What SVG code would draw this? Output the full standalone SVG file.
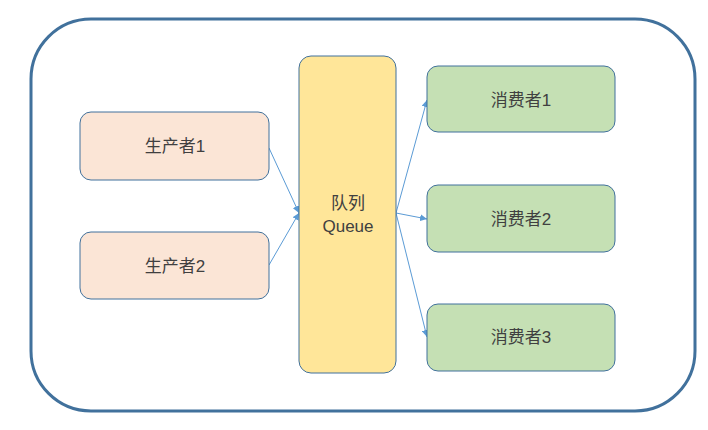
<svg xmlns="http://www.w3.org/2000/svg" width="708" height="430" viewBox="0 0 708 430">
<style>
.box{stroke:#41719C;stroke-width:1}
.t{font-family:"Liberation Sans","Noto Sans CJK SC",sans-serif;font-size:17px;fill:#404040;text-anchor:middle;dominant-baseline:central}
.c{stroke:#5B9BD5;stroke-width:1;fill:none;marker-end:url(#ah)}
</style>
<defs>
<marker id="ah" viewBox="0 0 10 10" refX="10" refY="5" markerWidth="7" markerHeight="7" orient="auto" markerUnits="userSpaceOnUse">
<path d="M0,0 L10,5 L0,10 z" fill="#5B9BD5"/>
</marker>
</defs>
<rect x="31" y="19" width="664" height="392" rx="60" ry="60" fill="#fff" stroke="#41719C" stroke-width="3"/>
<g id="connectors">
<line class="c" x1="269" y1="148" x2="299" y2="213"/>
<line class="c" x1="269" y1="265" x2="299" y2="213"/>
<line class="c" x1="396" y1="213" x2="427" y2="100"/>
<line class="c" x1="396" y1="213" x2="427" y2="219"/>
<line class="c" x1="396" y1="213" x2="427" y2="337"/>
</g>
<g id="producer1"><rect class="box" x="80" y="112" width="189" height="68" rx="11" fill="#FBE5D6"/><text class="t" x="175" y="146">生产者1</text></g>
<g id="producer2"><rect class="box" x="80" y="232" width="189" height="67" rx="11" fill="#FBE5D6"/><text class="t" x="175" y="266">生产者2</text></g>
<g id="queue"><rect class="box" x="299" y="56" width="97" height="317" rx="12" fill="#FFE699"/><text class="t" x="348" y="203">队列</text><text class="t" x="348" y="226">Queue</text></g>
<g id="consumer1"><rect class="box" x="427" y="66" width="188" height="66" rx="11" fill="#C5E0B4"/><text class="t" x="521" y="100">消费者1</text></g>
<g id="consumer2"><rect class="box" x="427" y="185" width="188" height="67" rx="11" fill="#C5E0B4"/><text class="t" x="521" y="219">消费者2</text></g>
<g id="consumer3"><rect class="box" x="427" y="304" width="188" height="67" rx="11" fill="#C5E0B4"/><text class="t" x="521" y="337">消费者3</text></g>
</svg>
